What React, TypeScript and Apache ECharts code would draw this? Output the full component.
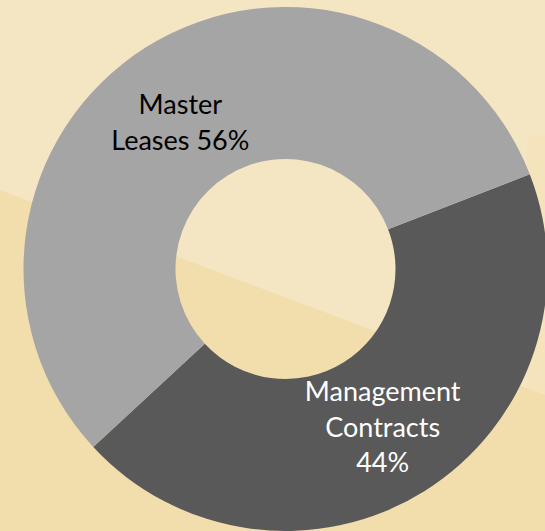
import React, { useEffect, useRef } from "react";
import * as echarts from "echarts";

const categories = ["Management\nContracts", "Master\nLeases"];
const values = [44, 56];
const sliceColors = ["#595959", "#a5a5a5"];
const labelColors = ["#ffffff", "#000000"];
const labelTexts = ["Management\nContracts\n44%", "Master\nLeases 56%"];

export default function App() {
  const ref = useRef<HTMLDivElement>(null);
  useEffect(() => {
    document.body.style.margin = "0";
    const chart = echarts.init(ref.current!, null, { renderer: "svg" });
    chart.setOption({
      animation: false,
      backgroundColor: "#f2ddac",
      graphic: [
        {
          type: "polygon",
          silent: true,
          z: -10,
          shape: { points: [[0, 0], [545, 0], [545, 395], [0, 190]] },
          style: { fill: "#f5e6c3" },
        },
        {
          type: "polygon",
          silent: true,
          z: -10,
          shape: { points: [[527, 137], [545, 137], [545, 395], [527, 388]] },
          style: { fill: "#f4e3bb" },
        },
      ],
      series: [
        {
          type: "pie",
          center: [285.5, 269],
          radius: [110, 262],
          startAngle: 21.2,
          clockwise: true,
          avoidLabelOverlap: false,
          labelLine: { show: false },
          itemStyle: { borderWidth: 0 },
          emphasis: { disabled: true },
          data: categories.map((name, i) => ({
            name,
            value: values[i],
            itemStyle: { color: sliceColors[i] },
            label: {
              show: true,
              position: "inside",
              formatter: labelTexts[i],
              color: labelColors[i],
              fontFamily: "Lato",
              fontSize: 27,
              lineHeight: 35.5,
              align: "center",
              offset: i === 1 ? [-5, 13] : [-3, -3],
            },
          })),
        },
      ],
    });
    return () => chart.dispose();
  }, []);
  return <div ref={ref} style={{ width: 545, height: 531 }} />;
}
